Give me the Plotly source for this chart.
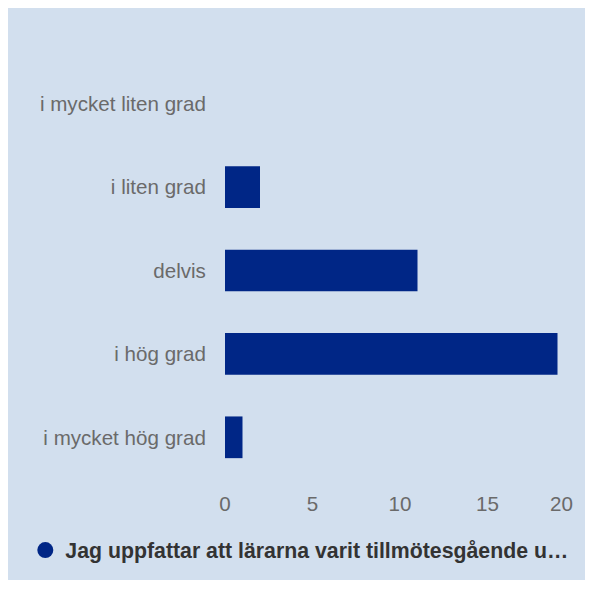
import plotly.graph_objects as go

# Svarsalternativ och antal svar
categories = ["i mycket liten grad", "i liten grad", "delvis", "i hög grad", "i mycket hög grad"]
counts = [0, 2, 11, 19, 1]
x_ticks = [0, 5, 10, 15, 20]
series_name = "Jag uppfattar att lärarna varit tillmötesgående u…"

bar_color = "#002686"
bg_color = "#d2dfee"
tick_font = dict(family="Liberation Sans, Arial", size=20.6, color="#6a6a6a")

fig = go.Figure()
fig.add_trace(go.Bar(x=counts, y=categories, orientation="h",
                     marker=dict(color=bar_color, line=dict(width=0)),
                     showlegend=False))
# dummy trace so the legend gets a round marker
fig.add_trace(go.Scatter(x=[None], y=[None], mode="markers", name=series_name,
                         marker=dict(color=bar_color, size=20, symbol="circle")))

# last tick label is pulled inside the frame, like in the original
fig.add_annotation(x=x_ticks[-1], y=0, xref="x", yref="paper", text=str(x_ticks[-1]),
                   showarrow=False, xanchor="center", yanchor="middle",
                   xshift=-14, yshift=-24, font=tick_font)

fig.update_layout(
    width=577, height=572,
    margin=dict(l=217, r=10, t=54, b=101),
    paper_bgcolor=bg_color, plot_bgcolor=bg_color,
    bargap=0.5,
    font=tick_font,
    showlegend=True,
    legend=dict(orientation="h", xref="container", yref="container",
                x=0.03, xanchor="left", y=0.052, yanchor="middle",
                font=dict(size=21.3, color="#333333", weight="bold"),
                itemsizing="trace"),
)
fig.update_xaxes(range=[0, 20], tickvals=x_ticks[:-1], showgrid=False, zeroline=False,
                 showline=False, ticks="outside", ticklen=6, tickcolor="rgba(0,0,0,0)",
                 automargin=False, fixedrange=True)
fig.update_yaxes(categoryorder="array", categoryarray=categories, autorange="reversed",
                 showgrid=False, zeroline=False, showline=False, ticks="outside",
                 ticklen=14, tickcolor="rgba(0,0,0,0)", automargin=False)

fig.write_html("out.html")
